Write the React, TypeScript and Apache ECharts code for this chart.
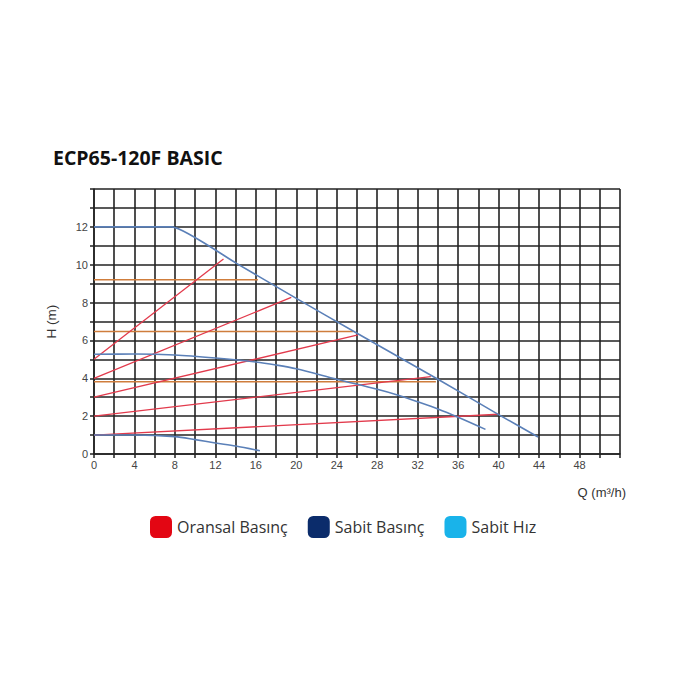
import { useEffect, useRef } from 'react';
import * as echarts from 'echarts';

// pump curves, [Q (m3/h), H (m)]
const speedHigh = [[0, 12], [7.7, 12], [14, 10.1], [20, 8.22], [26, 6.38], [34, 3.95], [40, 2.08], [43.9, 0.9]];
const speedMid = [[0, 5.27], [4, 5.28], [8, 5.23], [12, 5.07], [16, 4.86], [18, 4.7], [20, 4.5], [24, 3.95], [28, 3.42], [30, 3.12], [32, 2.76], [34, 2.38], [36, 1.94], [38.7, 1.3]];
const speedLow = [[0, 1.0], [4, 1.0], [8, 0.92], [10, 0.76], [12, 0.58], [14, 0.42], [16.4, 0.17]];

const prop1 = [[0, 5.0], [12.8, 10.3]];
const prop2 = [[0, 4.0], [19.5, 8.27]];
const prop3 = [[0, 3.0], [26.1, 6.29]];
const prop4 = [[0, 2.0], [33.3, 4.09]];
const prop5 = [[0, 1.0], [40, 2.1]];

const constLine1 = [[0, 9.2], [16.2, 9.2]];
const constLine2 = [[0, 6.47], [25.6, 6.47]];
const constLine3 = [[0, 3.82], [33.8, 3.82]];

const legendNames = ['Oransal Basınç', 'Sabit Basınç', 'Sabit Hız'];
const legendColors = ['#e30613', '#0b2c6b', '#19b3ea'];

const BLUE = '#5b80b8';
const RED = '#e23a4c';
const ORANGE = '#cf7d3c';

export default function App() {
  const chartRef = useRef<HTMLDivElement>(null);

  useEffect(() => {
    if (!chartRef.current) return;
    const chart = echarts.init(chartRef.current, undefined, { renderer: 'svg' });

    const line = (name: string, data: number[][], color: string, width = 1.3) => ({
      name,
      type: 'line',
      data,
      showSymbol: false,
      symbol: 'none',
      smooth: false,
      lineStyle: { color, width },
      itemStyle: { color },
      z: 3,
    });

    chart.setOption({
      animation: false,
      backgroundColor: '#fff',
      title: {
        text: 'ECP65-120F BASIC',
        left: 48,
        top: 142,
        textStyle: { fontFamily: 'Open Sans', fontWeight: 'bold', fontSize: 19.5, color: '#111' },
      },
      legend: {
        data: legendNames,
        left: 145,
        top: 511,
        icon: 'roundRect',
        itemWidth: 22,
        itemHeight: 22,
        itemGap: 20,
        textStyle: { fontFamily: 'Open Sans', fontSize: 16, color: '#333' },
        selectedMode: false,
      },
      grid: { left: 94, right: 80, top: 189, bottom: 246 },
      xAxis: {
        type: 'value',
        min: 0,
        max: 52,
        interval: 2,
        axisLine: { show: true, lineStyle: { color: '#222', width: 1.5 } },
        axisTick: { show: true, length: 4, lineStyle: { color: '#222', width: 1.5 } },
        axisLabel: {
          color: '#444',
          fontFamily: 'Liberation Sans',
          fontSize: 11,
          margin: 5,
          formatter: (v: number) => (v % 4 === 0 && v < 52 ? String(v) : ''),
        },
        splitLine: { show: true, lineStyle: { color: '#222', width: 1.6 } },
      },
      yAxis: {
        type: 'value',
        min: 0,
        max: 14,
        interval: 1,
        name: 'H (m)',
        nameLocation: 'middle',
        nameGap: 36,
        nameTextStyle: { fontFamily: 'Liberation Sans', fontSize: 13.5, color: '#333' },
        axisLine: { show: true, lineStyle: { color: '#222', width: 1.5 } },
        axisTick: { show: true, length: 4, lineStyle: { color: '#222', width: 1.5 } },
        axisLabel: {
          color: '#444',
          fontFamily: 'Liberation Sans',
          fontSize: 11,
          margin: 6,
          formatter: (v: number) => (v % 2 === 0 && v < 14 ? String(v) : ''),
        },
        splitLine: { show: true, lineStyle: { color: '#222', width: 1.6 } },
      },
      graphic: [
        {
          type: 'text',
          right: 74,
          top: 486,
          style: { text: 'Q (m³/h)', fontFamily: 'Liberation Sans', fontSize: 13, fill: '#333' },
        },
      ],
      series: [
        ...legendNames.map((n, i) => ({
          name: n,
          type: 'line',
          data: [],
          itemStyle: { color: legendColors[i] },
          lineStyle: { color: legendColors[i] },
        })),
        line('limit-1', constLine1, ORANGE, 1.5),
        line('limit-2', constLine2, ORANGE, 1.5),
        line('limit-3', constLine3, ORANGE, 1.5),
        line('prop-1', prop1, RED),
        line('prop-2', prop2, RED),
        line('prop-3', prop3, RED),
        line('prop-4', prop4, RED),
        line('prop-5', prop5, RED),
        { ...line('max-high', speedHigh, BLUE, 1.6), smooth: 0.15 },
        { ...line('max-mid', speedMid, BLUE, 1.6), smooth: 0.3 },
        { ...line('max-low', speedLow, BLUE, 1.6), smooth: 0.3 },
      ],
    });

    return () => {
      chart.dispose();
    };
  }, []);

  return (
    <div
      ref={chartRef}
      style={{ position: 'fixed', left: 0, top: 0, width: 700, height: 700 }}
    />
  );
}
